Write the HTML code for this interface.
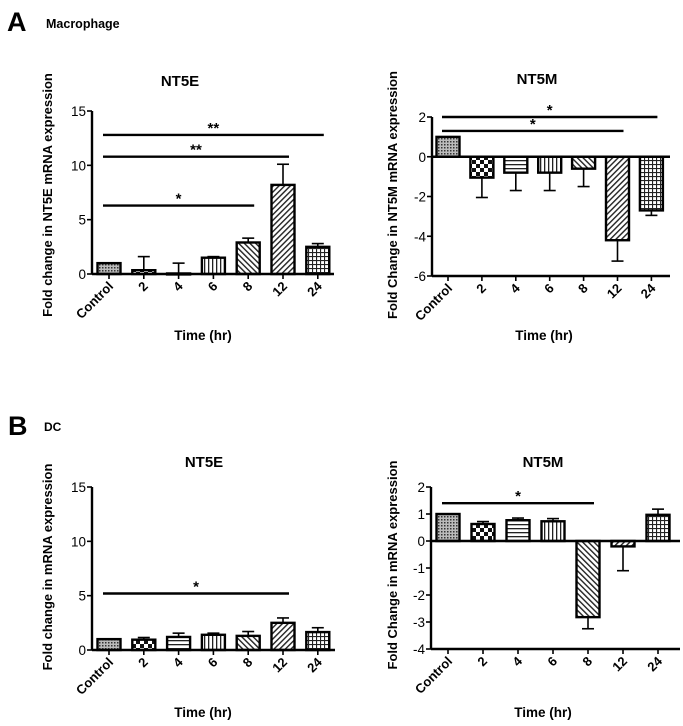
<!DOCTYPE html>
<html><head><meta charset="utf-8"><style>
html,body{margin:0;padding:0;background:#fff;}
svg{display:block;font-family:"Liberation Sans",Arial,sans-serif;}
</style></head><body>
<svg id="fig" width="683" height="726" viewBox="0 0 683 726" xmlns="http://www.w3.org/2000/svg">
<defs>
<pattern id="p0" width="3" height="3" patternUnits="userSpaceOnUse"><rect width="3" height="3" fill="#bbb"/><rect width="1.5" height="1.5" fill="#333"/></pattern>
<pattern id="p1" width="8" height="8" patternUnits="userSpaceOnUse"><rect width="8" height="8" fill="#fff"/><rect width="4" height="4" fill="#111"/><rect x="4" y="4" width="4" height="4" fill="#111"/></pattern>
<pattern id="p2" width="4" height="4" patternUnits="userSpaceOnUse"><rect width="4" height="4" fill="#fff"/><rect width="4" height="1.3" fill="#222"/></pattern>
<pattern id="p3" width="4" height="4" patternUnits="userSpaceOnUse"><rect width="4" height="4" fill="#fff"/><rect width="1.3" height="4" fill="#222"/></pattern>
<pattern id="p4" width="4" height="4" patternUnits="userSpaceOnUse" patternTransform="rotate(-45)"><rect width="4" height="4" fill="#fff"/><rect width="1.4" height="4" fill="#222"/></pattern>
<pattern id="p5" width="4" height="4" patternUnits="userSpaceOnUse" patternTransform="rotate(45)"><rect width="4" height="4" fill="#fff"/><rect width="1.4" height="4" fill="#222"/></pattern>
<pattern id="p6" width="4" height="4" patternUnits="userSpaceOnUse"><rect width="4" height="4" fill="#fff"/><rect width="4" height="1.1" fill="#222"/><rect width="1.1" height="4" fill="#222"/></pattern>
</defs>
<text x="7" y="31" font-size="27" font-weight="bold">A</text>
<text x="46" y="28" font-size="12.5" font-weight="bold">Macrophage</text>
<text x="8" y="435" font-size="27" font-weight="bold">B</text>
<text x="44" y="431" font-size="12" font-weight="bold">DC</text>
</svg>
<script>
const categories = ["Control","2","4","6","8","12","24"];
const macNT5EValues = [1.0,0.35,0.05,1.5,2.9,8.2,2.5];
const macNT5EErr = [1.0,1.6,1.0,1.6,3.3,10.1,2.8];
const macNT5MValues = [1.0,-1.05,-0.8,-0.8,-0.6,-4.2,-2.7];
const macNT5MErr = [1.0,-2.05,-1.7,-1.7,-1.5,-5.25,-2.95];
const dcNT5EValues = [1.0,0.95,1.2,1.4,1.3,2.5,1.65];
const dcNT5EErr = [1.0,1.15,1.55,1.55,1.7,2.95,2.05];
const dcNT5MValues = [1.0,0.63,0.77,0.73,-2.82,-0.2,0.97];
const dcNT5MErr = [1.0,0.72,0.85,0.83,-3.25,-1.1,1.18];
const ticksNT5E = [0,5,10,15];
const ticksMacNT5M = [2,0,-2,-4,-6];
const ticksDcNT5M = [2,1,0,-1,-2,-3,-4];
const sigMacNT5E = [[12.8,6,"**"],[10.8,5,"**"],[6.3,4,"*"]];
const sigMacNT5M = [[2.0,6,"*"],[1.3,5,"*"]];
const sigDcNT5E = [[5.2,5,"*"]];
const sigDcNT5M = [[1.4,4,"*"]];

const NS="http://www.w3.org/2000/svg";
const svg=document.getElementById('fig');
function mk(tag,attrs,parent){const e=document.createElementNS(NS,tag);for(const k in attrs)e.setAttribute(k,attrs[k]);(parent||svg).appendChild(e);return e;}

function chart(o){
  const g=mk('g',{});
  
  
  const ymin=o.ymin,ymax=o.ymax;
  const y=v=>o.yTop+(ymax-v)/(ymax-ymin)*(o.yBot-o.yTop);
  const x=i=>o.x0+i*o.step;
  const y0=y(0);
  const t=mk('text',{x:o.titleX,y:o.titleY,'font-size':15,'font-weight':'bold','text-anchor':'middle'},g);t.textContent=o.title;
  
  
  o.values.forEach((v,i)=>{
    const cx=x(i),bw=23;
    const e=o.err[i];
    if(Math.abs(e-v)>0.01){
      const l=mk('line',{x1:cx,x2:cx,y1:y(v),y2:y(e),stroke:'#000','stroke-width':1.6},g);
      
      
      mk('line',{x1:cx-6,x2:cx+6,y1:y(e),y2:y(e),stroke:'#000','stroke-width':1.6},g);
    }
    const top=Math.min(y(v),y0),h=Math.max(Math.abs(y(v)-y0),1);
    const r=mk('rect',{x:cx-bw/2,y:top,width:bw,height:h,fill:'url(#p'+i+')',stroke:'#000','stroke-width':2.4},g);
    
    
  });
  const ya=mk('line',{x1:o.axX,x2:o.axX,y1:y(ymax),y2:o.yBot,stroke:'#000','stroke-width':2.4},g);
  
  
  const xa=mk('line',{x1:o.axX,x2:o.axEnd,y1:y0,y2:y0,stroke:'#000','stroke-width':2.4},g);
  
  
  if(ymin<0) mk('line',{x1:o.axX,x2:o.axEnd,y1:o.yBot,y2:o.yBot,stroke:'#000','stroke-width':2.4},g);
  o.ticks.forEach(tv=>{
    mk('line',{x1:o.axX-5,x2:o.axX,y1:y(tv),y2:y(tv),stroke:'#000','stroke-width':1.6},g);
    const tt=mk('text',{x:o.axX-6,y:y(tv)+5,'font-size':13.5,'text-anchor':'end'},g);tt.textContent=tv;
    
    
  });
  const xb=o.yBot;
  categories.forEach((c,i)=>{
    mk('line',{x1:x(i),x2:x(i),y1:xb,y2:xb+5,stroke:'#000','stroke-width':1.6},g);
    const tt=mk('text',{x:x(i)+5,y:xb+13,'font-size':13,'font-weight':'bold','text-anchor':'end',transform:`rotate(-45 ${x(i)+5} ${xb+13})`},g);tt.textContent=c;
    
    
  });
  o.sig.forEach(s=>{
    const l=mk('line',{x1:x(0)-6,x2:x(s[1])+6,y1:y(s[0]),y2:y(s[0]),stroke:'#000','stroke-width':2.4},g);
    
    
    const st=mk('text',{x:(x(0)+x(s[1]))/2,y:y(s[0])-2,'font-size':15,'font-weight':'bold','text-anchor':'middle'},g);st.textContent=s[2];
    
    
  });
  const yt=mk('text',{x:0,y:0,'font-size':13,'font-weight':'bold','text-anchor':'middle',transform:`translate(${o.ylX} ${o.ylY}) rotate(-90)`},g);yt.textContent=o.ylabel;
  
  
  const xt=mk('text',{x:o.xlX,y:o.xlY,'font-size':13.5,'font-weight':'bold','text-anchor':'middle'},g);xt.textContent='Time (hr)';
  
  
}
chart({name:'macrophage-nt5e-chart',title:'NT5E',titleX:180,titleY:86,values:macNT5EValues,err:macNT5EErr,ymin:0,ymax:15,yTop:111,yBot:274,x0:109,step:34.8,axX:92,axEnd:334,ticks:ticksNT5E,sig:sigMacNT5E,ylabel:'Fold change in NT5E mRNA expression',ylX:52,ylY:195,xlX:203,xlY:340});
chart({name:'macrophage-nt5m-chart',title:'NT5M',titleX:537,titleY:84,values:macNT5MValues,err:macNT5MErr,ymin:-6,ymax:2,yTop:117,yBot:276,x0:448,step:33.9,axX:432,axEnd:670,ticks:ticksMacNT5M,sig:sigMacNT5M,ylabel:'Fold Change in NT5M mRNA expression',ylX:397,ylY:195,xlX:544,xlY:340});
chart({name:'dc-nt5e-chart',title:'NT5E',titleX:204,titleY:467,values:dcNT5EValues,err:dcNT5EErr,ymin:0,ymax:15,yTop:487,yBot:650,x0:109,step:34.8,axX:92,axEnd:335,ticks:ticksNT5E,sig:sigDcNT5E,ylabel:'Fold change in mRNA expression',ylX:52,ylY:567,xlX:203,xlY:717});
chart({name:'dc-nt5m-chart',title:'NT5M',titleX:543,titleY:467,values:dcNT5MValues,err:dcNT5MErr,ymin:-4,ymax:2,yTop:487,yBot:649,x0:448,step:35,axX:431,axEnd:680,ticks:ticksDcNT5M,sig:sigDcNT5M,ylabel:'Fold Change in mRNA expression',ylX:397,ylY:565,xlX:543,xlY:717});
</script>
</body></html>
